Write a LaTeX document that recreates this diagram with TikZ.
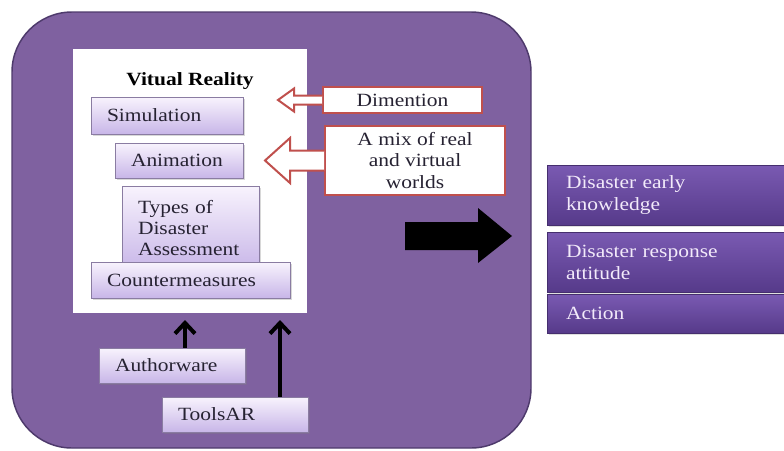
\documentclass[tikz,border=0pt]{standalone}
\usepackage{fontspec}
\setmainfont{Liberation Serif}[FakeStretch=1.15]
\usepackage{tikz}
\usetikzlibrary{arrows.meta}
\usetikzlibrary{shadows}
\usetikzlibrary{calc}

\definecolor{panelfill}{RGB}{127,97,160}
\definecolor{panelline}{RGB}{78,58,108}
\definecolor{boxtop}{RGB}{248,243,253}
\definecolor{boxbot}{RGB}{200,182,232}
\definecolor{boxline}{RGB}{138,124,162}
\definecolor{outtop}{RGB}{122,90,178}
\definecolor{outbot}{RGB}{86,58,138}
\definecolor{outtext}{RGB}{242,234,250}
\definecolor{notered}{RGB}{192,80,77}
\definecolor{ink}{RGB}{38,34,50}

\begin{document}
\begin{tikzpicture} [
    x=0.75pt, y=-0.75pt,
    font=\fontsize{14}{16}\selectfont,
    every node/.style = {inner sep=0pt},
    vrbox/.style = {draw=boxline, top color=boxtop, bottom color=boxbot, text=ink,
        inner xsep=12pt, align=left, drop shadow={opacity=0.3, shadow xshift=1.2pt, shadow yshift=-1.2pt}},
    outbox/.style = {draw=outbot!80!black, top color=outtop, bottom color=outbot, text=outtext,
        inner xsep=14.25pt, text width=149.25pt, align=left, font=\fontsize{14}{16.5}\selectfont,
        drop shadow={opacity=0.25, shadow xshift=1.2pt, shadow yshift=-1.2pt}},
    notebox/.style = {draw=notered, line width=1.5pt, fill=white, text=ink, align=center},
    hollow/.style = {draw=notered, line width=1.5pt, fill=white, line join=miter},
    uparrow/.style = {line width=3pt, -{Straight Barb[length=8pt, width=15pt]}}
]
    \useasboundingbox (0,0) rectangle (784,450);

    \draw[fill=panelfill, draw=panelline, line width=1.1pt, rounded corners=45pt] (12,12) rectangle (531,448);

    \node [fill=white, minimum width=175.5pt, minimum height=198pt] (vr) at (190,181) {};
    \node [anchor=base] (vrtitle) at (190,85) {\bfseries Vitual Reality};

    \node [vrbox, text width=90pt, minimum height=27.75pt] (sim) at (167,115.5) {Simulation};
    \node [vrbox, text width=72pt, minimum height=26.25pt] (anim) at (179,160.5) {Animation};
    \node [vrbox, text width=78.75pt, minimum height=63pt] (types) at (190.5,228) {Types of\\Disaster\\Assessment};
    \node [vrbox, text width=125.25pt, minimum height=27pt] (counter) at (190.5,280) {Countermeasures};

    \node [vrbox, text width=85.5pt, minimum height=26.25pt] (auth) at (172,365.5) {Authorware};
    \node [vrbox, text width=85.5pt, minimum height=26.25pt] (tools) at (235,414.5) {ToolsAR};

    \coordinate (authtip) at (185,320);
    \coordinate (toolstip) at (280,320);
    \draw[uparrow] (auth.north -| authtip) -- (authtip);
    \draw[uparrow] (tools.north -| toolstip) -- (toolstip);

    \node [notebox, minimum width=119.25pt, minimum height=19.5pt] (dim) at (402.5,100) {Dimention};
    \node [notebox, minimum width=135pt, minimum height=51.75pt] (mix) at (415,160.5) {A mix of real\\and virtual\\worlds};

    \filldraw[hollow] (dim.west) ++(0,-4.5) -- (294,95.5) -- (294,88.5) -- (278,100)
        -- (294,111.5) -- (294,104.5) -- ($(dim.west)+(0,4.5)$);
    \filldraw[hollow] (mix.west) ++(0,-10) -- (290,150.5) -- (290,138) -- (265,160.5)
        -- (290,183) -- (290,170.5) -- ($(mix.west)+(0,10)$);

    \fill[black] (405,222) -- (478,222) -- (478,208) -- (512,236) -- (478,263) -- (478,250) -- (405,250) -- cycle;

    \node [outbox, minimum height=45pt] (early) at (665.5,195) {Disaster early\\knowledge};
    \node [outbox, minimum height=45pt] (attitude) at (665.5,262) {Disaster response\\attitude};
    \node [outbox, minimum height=29.25pt] (action) at (665.5,313.5) {Action};
\end{tikzpicture}
\end{document}
